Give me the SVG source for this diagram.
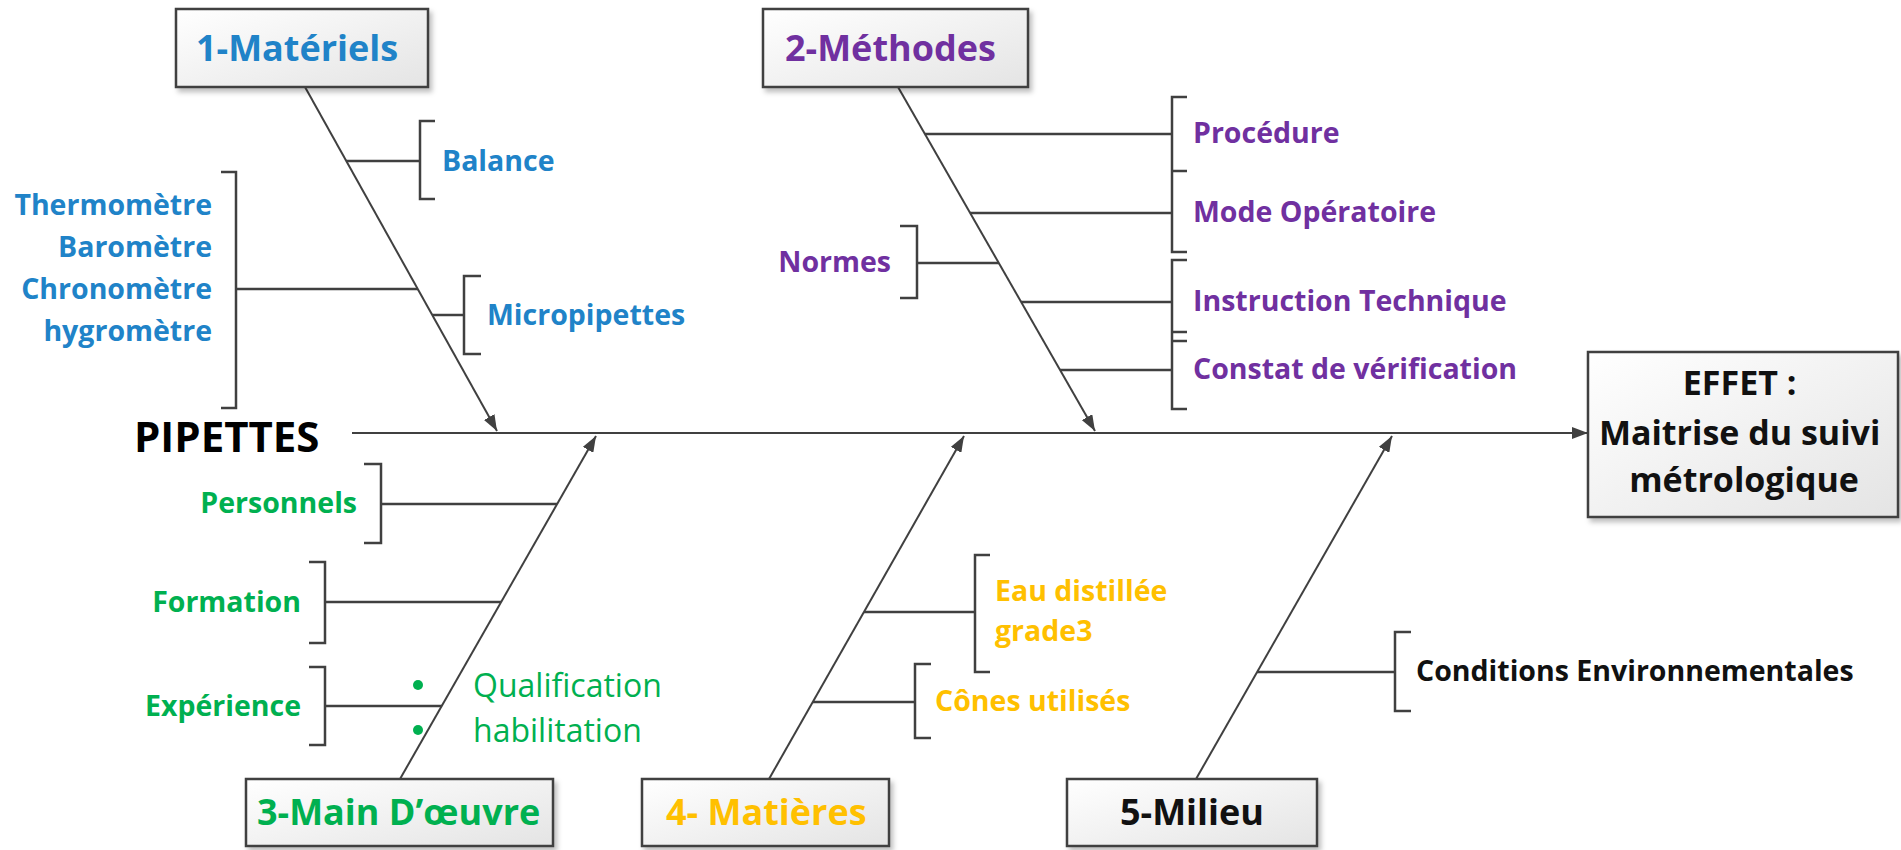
<svg xmlns="http://www.w3.org/2000/svg" width="1901" height="850" viewBox="0 0 1901 850">
<defs>
<linearGradient id="bg" x1="0" y1="0" x2="1" y2="1">
<stop offset="0" stop-color="#ffffff"/>
<stop offset="1" stop-color="#e4e4e4"/>
</linearGradient>
<filter id="sh" x="-10%" y="-10%" width="130%" height="140%">
<feDropShadow dx="3" dy="4" stdDeviation="2.5" flood-color="#000" flood-opacity="0.25"/>
</filter>
<marker id="ah" viewBox="0 0 16 12" refX="16" refY="6" markerWidth="16" markerHeight="12" markerUnits="userSpaceOnUse" orient="auto">
<path d="M0,0 L16,6 L0,12 z" fill="#404040"/>
</marker>
<style>
.box{fill:url(#bg);stroke:#404040;stroke-width:2.5;filter:url(#sh)}
.ln{stroke:#404040;stroke-width:2.5;fill:none}
.bone{stroke:#404040;stroke-width:2;fill:none;marker-end:url(#ah)}
.br{stroke:#404040;stroke-width:2.5;fill:none}
.cat{font-family:"Open Sans","Liberation Sans",sans-serif;font-weight:bold;font-size:36px}
.lab{font-family:"Open Sans","Liberation Sans",sans-serif;font-weight:bold;font-size:28.5px}
.reg{font-family:"Open Sans","Liberation Sans",sans-serif;font-size:32px}
.blue{fill:#2083C8}.purple{fill:#7030A0}.green{fill:#00B050}.orange{fill:#FFC000}.black{fill:#111}
</style>
</defs>
<rect width="1901" height="850" fill="#ffffff"/>

<g id="connectors">
<line class="bone" x1="352" y1="433" x2="1588" y2="433"/>
<line class="bone" x1="305" y1="87" x2="497" y2="431"/>
<line class="bone" x1="898" y1="87" x2="1095" y2="431"/>
<line class="bone" x1="400" y1="779" x2="596" y2="436"/>
<line class="bone" x1="769" y1="779" x2="964" y2="436"/>
<line class="bone" x1="1196" y1="779" x2="1392" y2="436"/>
<line class="ln" x1="346" y1="161" x2="420" y2="161"/>
<line class="ln" x1="432" y1="315" x2="464" y2="315"/>
<line class="ln" x1="236" y1="289" x2="418" y2="289"/>
<line class="ln" x1="925" y1="134" x2="1172" y2="134"/>
<line class="ln" x1="970" y1="213" x2="1172" y2="213"/>
<line class="ln" x1="1021" y1="302" x2="1172" y2="302"/>
<line class="ln" x1="1060" y1="370" x2="1172" y2="370"/>
<line class="ln" x1="917" y1="263" x2="999" y2="263"/>
<line class="ln" x1="381" y1="504" x2="557" y2="504"/>
<line class="ln" x1="325" y1="602" x2="501" y2="602"/>
<line class="ln" x1="325" y1="706" x2="442" y2="706"/>
<line class="ln" x1="864" y1="612" x2="975" y2="612"/>
<line class="ln" x1="813" y1="702" x2="915" y2="702"/>
<line class="ln" x1="1257" y1="672" x2="1395" y2="672"/>
</g>

<g id="brackets">
<path class="br" d="M435,121 H420 V199 H435"/>
<path class="br" d="M481,276 H464 V354 H481"/>
<path class="br" d="M221,172 H236 V408 H221"/>
<path class="br" d="M1187,97 H1172 V252 H1187 M1172,171 H1187"/>
<path class="br" d="M1187,260 H1172 V409 H1187 M1172,332 H1187 M1172,341 H1187"/>
<path class="br" d="M900,226 H917 V298 H900"/>
<path class="br" d="M364,464 H381 V543 H364"/>
<path class="br" d="M309,562 H325 V643 H309"/>
<path class="br" d="M309,667 H325 V745 H309"/>
<path class="br" d="M990,555 H975 V672 H990"/>
<path class="br" d="M931,664 H915 V738 H931"/>
<path class="br" d="M1411,632 H1395 V711 H1411"/>
</g>

<g id="node-materiels">
<rect class="box" x="176" y="9" width="252" height="78"/>
<text class="cat blue" x="196" y="61">1-Matériels</text>
<text class="lab blue" x="442" y="171">Balance</text>
<text class="lab blue" x="487" y="325">Micropipettes</text>
<text class="lab blue" text-anchor="end" x="212" y="215">Thermomètre</text>
<text class="lab blue" text-anchor="end" x="212" y="257">Baromètre</text>
<text class="lab blue" text-anchor="end" x="212" y="299">Chronomètre</text>
<text class="lab blue" text-anchor="end" x="212" y="341">hygromètre</text>
</g>

<g id="node-methodes">
<rect class="box" x="763" y="9" width="265" height="78"/>
<text class="cat purple" x="785" y="61">2-Méthodes</text>
<text class="lab purple" x="1193" y="143">Procédure</text>
<text class="lab purple" x="1193" y="222">Mode Opératoire</text>
<text class="lab purple" x="1193" y="311">Instruction Technique</text>
<text class="lab purple" x="1193" y="379">Constat de vérification</text>
<text class="lab purple" text-anchor="end" x="891" y="272">Normes</text>
</g>

<g id="node-pipettes">
<text x="134" y="452" font-family="Open Sans, Liberation Sans, sans-serif" font-weight="bold" font-size="42" fill="#000">PIPETTES</text>
</g>

<g id="node-effet">
<rect class="box" x="1588" y="352" width="310" height="165"/>
<text font-family="Open Sans, Liberation Sans, sans-serif" font-weight="bold" font-size="34" fill="#111" text-anchor="middle">
<tspan x="1744" y="395">EFFET :</tspan>
<tspan x="1744" y="445">Maitrise du suivi</tspan>
<tspan x="1744" y="492">métrologique</tspan>
</text>
</g>

<g id="node-main-oeuvre">
<rect class="box" x="246" y="779" width="307" height="67"/>
<text class="cat green" x="257" y="825">3-Main D’œuvre</text>
<text class="lab green" text-anchor="end" x="357" y="513">Personnels</text>
<text class="lab green" text-anchor="end" x="301" y="612">Formation</text>
<text class="lab green" text-anchor="end" x="301" y="716">Expérience</text>
<circle cx="418" cy="685" r="5" fill="#00B050"/>
<circle cx="418" cy="730" r="5" fill="#00B050"/>
<text class="reg green" x="473" y="697">Qualification</text>
<text class="reg green" x="473" y="742">habilitation</text>
</g>

<g id="node-matieres">
<rect class="box" x="642" y="779" width="247" height="67"/>
<text class="cat orange" x="666" y="825">4- Matières</text>
<text class="lab orange" x="995" y="601">Eau distillée</text>
<text class="lab orange" x="995" y="641">grade3</text>
<text class="lab orange" x="935" y="711">Cônes utilisés</text>
</g>

<g id="node-milieu">
<rect class="box" x="1067" y="779" width="250" height="67"/>
<text class="cat black" x="1120" y="825">5-Milieu</text>
<text class="lab black" x="1416" y="681" style="font-size:28.5px">Conditions Environnementales</text>
</g>
</svg>
